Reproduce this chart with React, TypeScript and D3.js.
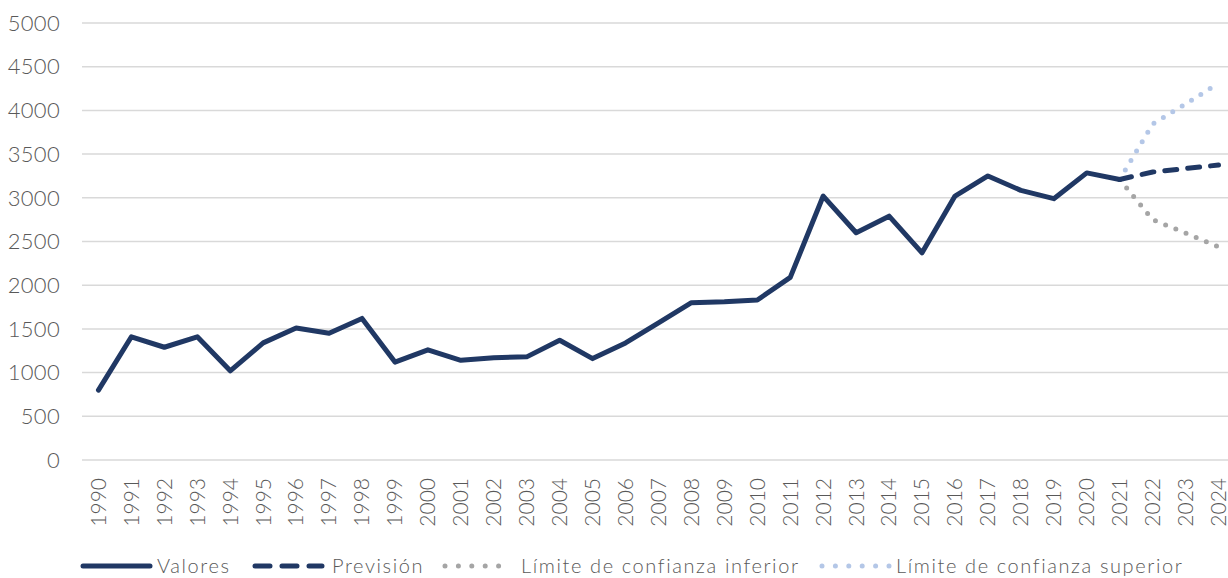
import React, { useEffect, useRef } from "react";
import * as d3 from "d3";

const years: string[] = [
  "1990","1991","1992","1993","1994","1995","1996","1997","1998","1999",
  "2000","2001","2002","2003","2004","2005","2006","2007","2008","2009",
  "2010","2011","2012","2013","2014","2015","2016","2017","2018","2019",
  "2020","2021","2022","2023","2024",
];

const valores: number[] = [
  800, 1410, 1290, 1410, 1020, 1340, 1510, 1450, 1620, 1120,
  1260, 1140, 1170, 1180, 1370, 1160, 1340, 1570, 1800, 1810,
  1830, 2090, 3020, 2600, 2790, 2370, 3020, 3250, 3085, 2990,
  3285, 3210,
];

const previsionYears: string[] = ["2021", "2022", "2023", "2024"];
const prevision: number[] = [3210, 3295, 3335, 3375];
const limiteInferior: number[] = [3210, 2750, 2597, 2440];
const limiteSuperior: number[] = [3210, 3844, 4073, 4310];

const yTicks: number[] = [0, 500, 1000, 1500, 2000, 2500, 3000, 3500, 4000, 4500, 5000];

const legendItems = [
  { label: "Valores", kind: "solid" },
  { label: "Previsión", kind: "dash" },
  { label: "Límite de confianza inferior", kind: "dotGray" },
  { label: "Límite de confianza superior", kind: "dotBlue" },
];

const W = 1228;
const H = 578;
const NAVY = "#203864";
const GRAY = "#a5a5a5";
const LIGHTBLUE = "#b4c7e7";
const TEXT = "#595959";
const FONT = "Lato, 'Open Sans', sans-serif";

export default function App() {
  const ref = useRef<SVGSVGElement | null>(null);

  useEffect(() => {
    const svg = d3.select(ref.current);
    svg.selectAll("*").remove();

    const x = d3.scalePoint<string>().domain(years).range([82, 1235]).padding(0.5);
    const y = d3.scaleLinear().domain([0, 5000]).range([460, 23]);

    // gridlines
    svg.append("g")
      .selectAll("line")
      .data(yTicks)
      .join("line")
      .attr("x1", 82)
      .attr("x2", 1235)
      .attr("y1", (d) => y(d))
      .attr("y2", (d) => y(d))
      .attr("stroke", "#d9d9d9")
      .attr("stroke-width", 1.5);

    // y labels
    svg.append("g")
      .selectAll("text")
      .data(yTicks)
      .join("text")
      .attr("x", 60)
      .attr("y", (d) => y(d))
      .attr("dy", "0.35em")
      .attr("text-anchor", "end")
      .attr("font-family", FONT)
      .attr("font-weight", 300)
      .attr("font-size", 22)
      .attr("letter-spacing", 0.3)
      .attr("fill", TEXT)
      .text((d) => String(d));

    // x labels
    svg.append("g")
      .selectAll("text")
      .data(years)
      .join("text")
      .attr("transform", (d) => `translate(${x(d)!},478) rotate(-90)`)
      .attr("dy", "0.35em")
      .attr("text-anchor", "end")
      .attr("font-family", FONT)
      .attr("font-weight", 300)
      .attr("font-size", 21)
      .attr("fill", TEXT)
      .text((d) => d);

    const line = d3.line<[string, number]>()
      .x((d) => x(d[0])!)
      .y((d) => y(d[1]));

    const zip = (ks: string[], vs: number[]) => vs.map((v, i) => [ks[i], v] as [string, number]);

    // lower bound
    svg.append("path")
      .attr("d", line(zip(previsionYears, limiteInferior)))
      .attr("fill", "none")
      .attr("stroke", GRAY)
      .attr("stroke-width", 5)
      .attr("stroke-linecap", "round")
      .attr("stroke-dasharray", "0 11");

    // upper bound
    svg.append("path")
      .attr("d", line(zip(previsionYears, limiteSuperior)))
      .attr("fill", "none")
      .attr("stroke", LIGHTBLUE)
      .attr("stroke-width", 5)
      .attr("stroke-linecap", "round")
      .attr("stroke-dasharray", "0 11");

    // values
    svg.append("path")
      .attr("d", line(zip(years, valores)))
      .attr("fill", "none")
      .attr("stroke", NAVY)
      .attr("stroke-width", 5)
      .attr("stroke-linejoin", "round")
      .attr("stroke-linecap", "round");

    // forecast
    svg.append("path")
      .attr("d", line(zip(previsionYears, prevision)))
      .attr("fill", "none")
      .attr("stroke", NAVY)
      .attr("stroke-width", 5)
      .attr("stroke-linecap", "round")
      .attr("stroke-dasharray", "12 11");

    // legend
    const legendY = 566;
    const starts = [81, 253, 443, 820];
    const textStarts = [157, 332, 521, 896];
    const lg = svg.append("g");
    legendItems.forEach((it, i) => {
      const sx = starts[i];
      const l = lg.append("line")
        .attr("x1", sx + 2)
        .attr("x2", sx + 69)
        .attr("y1", legendY)
        .attr("y2", legendY)
        .attr("stroke-width", 5)
        .attr("stroke-linecap", "round");
      if (it.kind === "solid") l.attr("stroke", NAVY);
      if (it.kind === "dash") l.attr("stroke", NAVY).attr("stroke-dasharray", "15 12");
      if (it.kind === "dotGray") l.attr("stroke", GRAY).attr("stroke-dasharray", "0 13.4");
      if (it.kind === "dotBlue") l.attr("stroke", LIGHTBLUE).attr("stroke-dasharray", "0 13.4");
      lg.append("text")
        .attr("x", textStarts[i])
        .attr("y", legendY)
        .attr("dy", "0.35em")
        .attr("font-family", FONT)
        .attr("font-weight", 300)
        .attr("font-size", 20)
        .attr("letter-spacing", 1.6)
        .attr("fill", TEXT)
        .text(it.label);
    });
  }, []);

  return (
    <svg
      ref={ref}
      width={W}
      height={H}
      style={{ position: "absolute", left: 0, top: 0, background: "#fff" }}
    />
  );
}
